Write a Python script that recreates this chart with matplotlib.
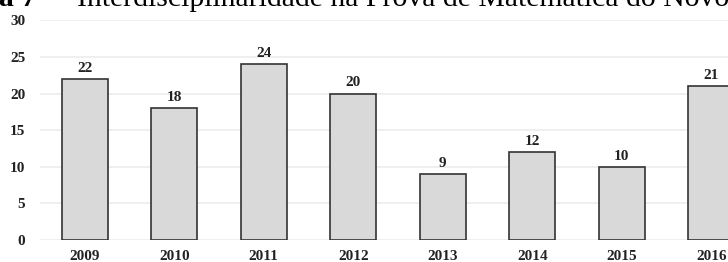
import matplotlib.pyplot as plt

years = ["2009", "2010", "2011", "2012", "2013", "2014", "2015", "2016"]
counts = [22, 18, 24, 20, 9, 12, 10, 21]
yticks = [0, 5, 10, 15, 20, 25, 30]

plt.rcParams['font.family'] = ['Liberation Serif', 'DejaVu Serif']

W, H = 728, 262
fig = plt.figure(figsize=(W / 100, H / 100), dpi=100)
# the picture is a crop: the axes run past the right edge
ax = fig.add_axes([40 / W, 22 / H, 716 / W, 219.6 / H])

x = range(len(years))
bars = ax.bar(x, counts, width=0.51, color="#d9d9d9", edgecolor="#333333", linewidth=1.2, zorder=3)
for b, v in zip(bars, counts):
    ax.annotate(str(v), (b.get_x() + b.get_width() / 2, v), xytext=(0, 3), textcoords="offset points",
                ha="center", va="bottom", fontsize=11, fontweight="bold", color="#222222")

ax.set_xlim(-0.5, len(years) - 0.5)
ax.set_ylim(0, 30)
ax.set_xticks(list(x))
ax.set_xticklabels(years)
ax.set_yticks(yticks)
ax.grid(axis="y", color="#ececec", linewidth=1.2, zorder=0)
ax.tick_params(length=0, labelsize=11, colors="#222222")
ax.tick_params(axis="y", pad=10.5)
ax.tick_params(axis="x", pad=7)
for lab in ax.get_xticklabels() + ax.get_yticklabels():
    lab.set_fontweight("bold")
for s in ax.spines.values():
    s.set_visible(False)

# caption cut off at the top of the crop
ty = 1 - 6 / H
fig.text(36 / W, ty, "Figura 7", ha="right", va="baseline", fontsize=21.4, fontweight="bold")
fig.text(57 / W, ty, "–", ha="center", va="baseline", fontsize=21.4)
fig.text(77 / W, ty, "Interdisciplinaridade na Prova de Matemática do Novo ENEM",
         ha="left", va="baseline", fontsize=21.4)

fig.savefig("out.png", dpi=100)
